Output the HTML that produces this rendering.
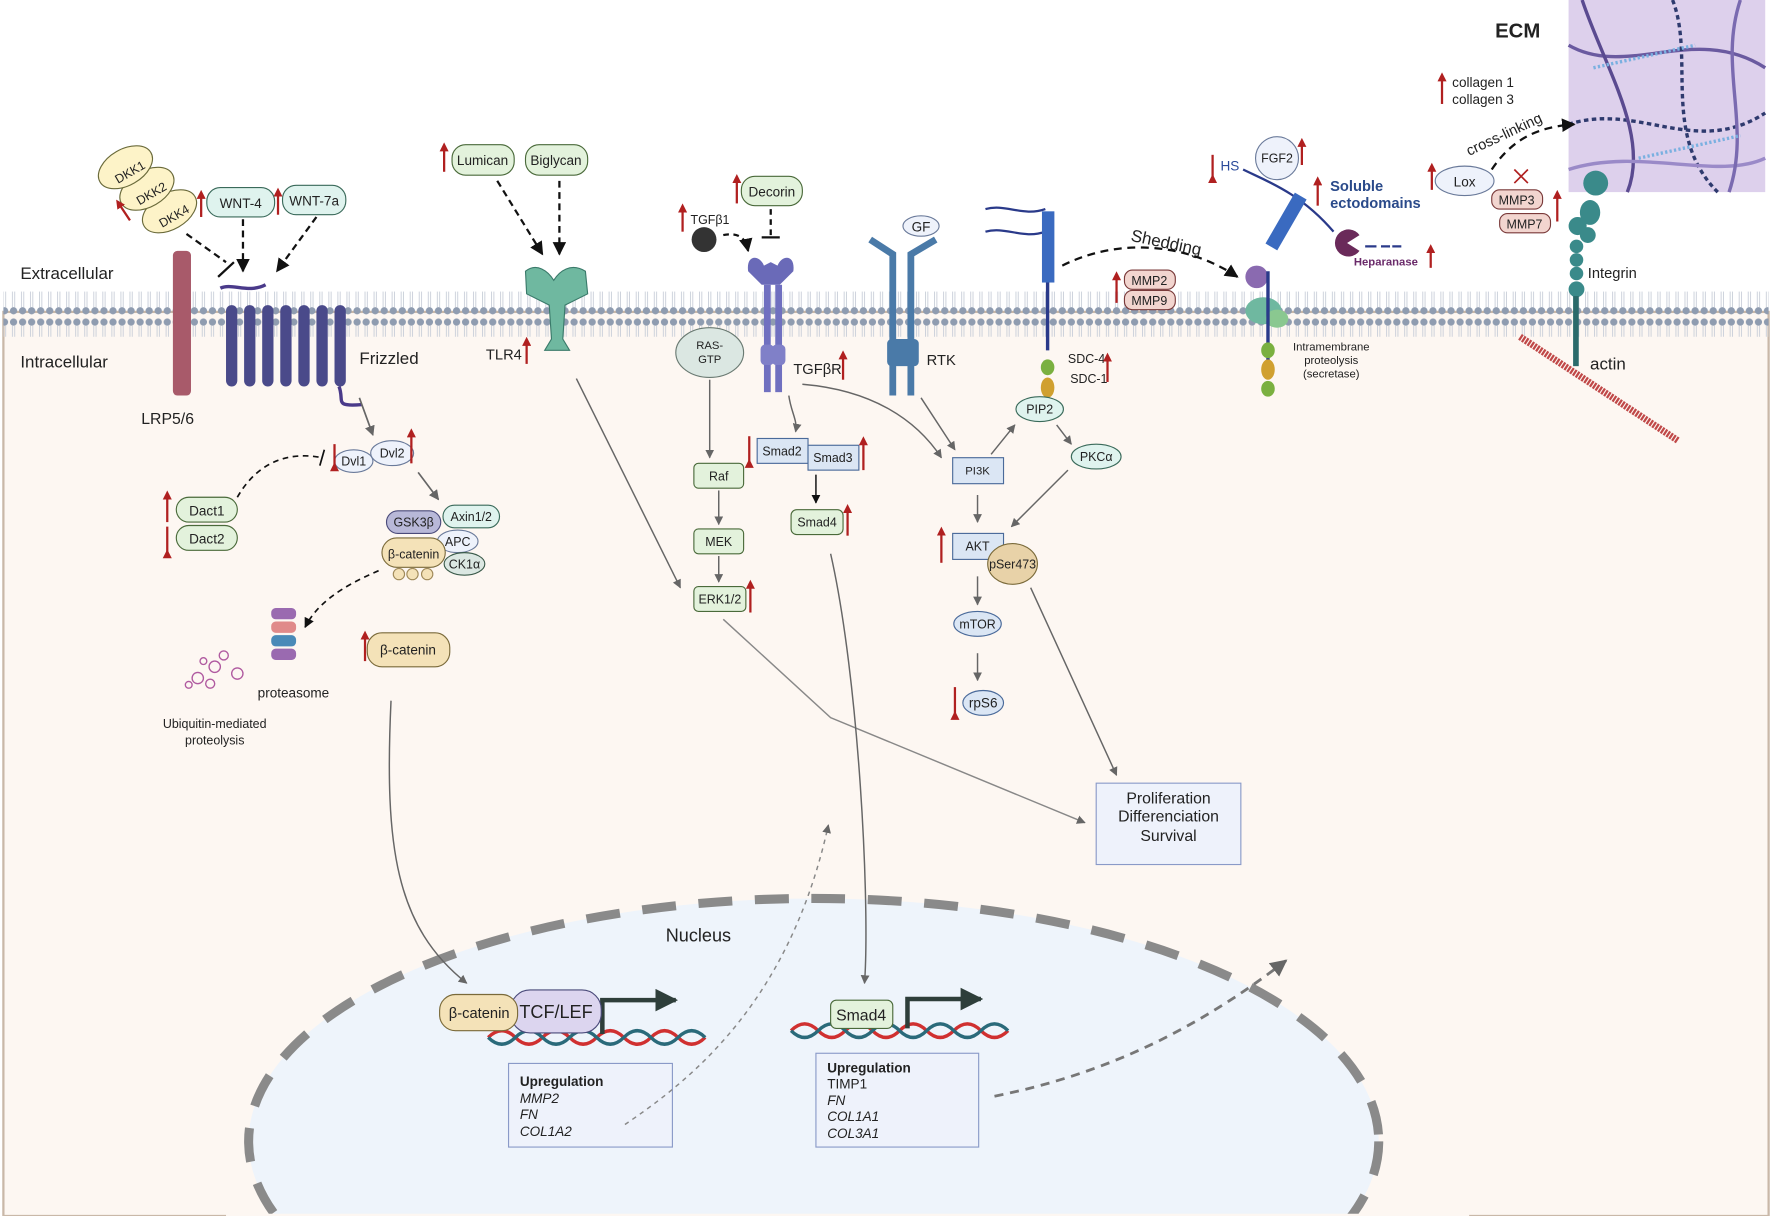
<!DOCTYPE html>
<html><head><meta charset="utf-8"><style>
html,body{margin:0;padding:0;background:#fff;width:1772px;height:1216px;overflow:hidden}
svg{display:block}
text{font-family:"Liberation Sans",sans-serif;fill:#222}
</style></head><body>
<svg width="1772" height="1216" viewBox="0 0 1568 1076" preserveAspectRatio="none" xmlns="http://www.w3.org/2000/svg">
<defs>
<marker id="ag" viewBox="0 0 10 10" refX="9" refY="5" markerWidth="6" markerHeight="6" orient="auto"><path d="M0,0L10,5L0,10z" fill="#666"/></marker>
<marker id="ak" viewBox="0 0 10 10" refX="9" refY="5" markerWidth="6" markerHeight="6" orient="auto"><path d="M0,0L10,5L0,10z" fill="#111"/></marker>
<marker id="ad" viewBox="0 0 10 10" refX="9" refY="5" markerWidth="5" markerHeight="5" orient="auto"><path d="M0,0L10,5L0,10z" fill="#2e3e3a"/></marker>
<pattern id="lip" width="8" height="40" patternUnits="userSpaceOnUse">
<circle cx="4" cy="5" r="3.2" fill="#8f9cb0"/><circle cx="4" cy="35" r="3.2" fill="#8f9cb0"/>
<line x1="3" y1="8" x2="3" y2="32" stroke="#c8ced8" stroke-width="0.8"/><line x1="5" y1="8" x2="5" y2="32" stroke="#c8ced8" stroke-width="0.8"/>
</pattern>
<marker id="red" viewBox="0 0 10 10" refX="5" refY="5" markerWidth="4" markerHeight="4" orient="auto"><path d="M0,0L10,5L0,10z" fill="#b02020"/></marker>
</defs>
<rect x="3" y="276" width="1562" height="800" fill="#fdf7f2" stroke="#c9b8a8" stroke-width="2"/>
<rect x="3" y="258" width="1562" height="40" fill="url(#lip)"/>
<ellipse cx="720" cy="1010" rx="500" ry="215" fill="#eef4fb" stroke="#8a8a8a" stroke-width="8" stroke-dasharray="30 20"/>
<rect x="200" y="1074" width="1100" height="4" fill="#fdf7f2"/>
<rect x="1388" y="0" width="174" height="170" fill="#ddd0ec"/>
<g stroke-width="3" fill="none">
<path d="M1388,40 C1440,70 1500,20 1562,60" stroke="#6a5aa0"/>
<path d="M1388,110 C1450,90 1500,140 1562,100" stroke="#2e3a6e" stroke-dasharray="4 3"/>
<path d="M1400,0 C1420,60 1460,120 1440,170" stroke="#5a4a90"/>
<path d="M1480,0 C1500,50 1470,120 1520,170" stroke="#2e3a6e" stroke-dasharray="4 3"/>
<path d="M1388,150 C1450,130 1520,160 1562,140" stroke="#9a8ac8"/>
<path d="M1540,0 C1520,60 1550,110 1530,170" stroke="#7a6ab0"/>
<path d="M1410,60 L1500,40" stroke="#7ab0e0" stroke-dasharray="2 2"/>
<path d="M1450,140 L1540,120" stroke="#7ab0e0" stroke-dasharray="2 2"/>
</g>
<text x="1323" y="33" font-size="18" font-weight="bold">ECM</text>
<text x="18" y="247" font-size="15">Extracellular</text>
<text x="18" y="325" font-size="15">Intracellular</text>
<rect x="153" y="222" width="16" height="128" rx="4" fill="#a85a6a"/>
<text x="125" y="375" font-size="14">LRP5/6</text>
<g fill="#4a4a8a">
<rect x="200" y="270" width="10" height="72" rx="5"/><rect x="216" y="270" width="10" height="72" rx="5"/><rect x="232" y="270" width="10" height="72" rx="5"/><rect x="248" y="270" width="10" height="72" rx="5"/><rect x="264" y="270" width="10" height="72" rx="5"/><rect x="280" y="270" width="10" height="72" rx="5"/><rect x="296" y="270" width="10" height="72" rx="5"/>
</g>
<path d="M195,255 C205,250 220,260 235,252" stroke="#4a3a8a" stroke-width="3" fill="none"/>
<path d="M300,342 C305,355 295,360 320,358" stroke="#4a3a8a" stroke-width="3" fill="none"/>
<text x="318" y="322" font-size="15">Frizzled</text>
<g fill="#fdf3c8" stroke="#6a6a3a">
<ellipse cx="150" cy="187" rx="26" ry="16" transform="rotate(-30 150 187)"/>
<ellipse cx="130" cy="167" rx="26" ry="16" transform="rotate(-30 130 167)"/>
<ellipse cx="111" cy="148" rx="26" ry="16" transform="rotate(-30 111 148)"/>
</g>
<text x="100" y="158" font-size="11" transform="rotate(-30 111 152)">DKK1</text>
<text x="119" y="177" font-size="11" transform="rotate(-30 130 171)">DKK2</text>
<text x="139" y="197" font-size="11" transform="rotate(-30 150 191)">DKK4</text>
<path d="M115,195 L105,180" stroke="#b02020" stroke-width="2" marker-end="url(#red)"/>
<rect x="183" y="166" width="60" height="26" rx="12" fill="#dff3ee" stroke="#3a6a5a"/><text x="213" y="184" font-size="12" text-anchor="middle">WNT-4</text>
<rect x="250" y="164" width="56" height="26" rx="12" fill="#dff3ee" stroke="#3a6a5a"/><text x="278" y="182" font-size="12" text-anchor="middle">WNT-7a</text>
<path d="M178,192L178,172" stroke="#b02020" stroke-width="2" marker-end="url(#red)"/>
<path d="M246,190L246,170" stroke="#b02020" stroke-width="2" marker-end="url(#red)"/>
<g stroke="#111" stroke-width="2" stroke-dasharray="6 4" fill="none">
<path d="M165,207 L200,232"/><path d="M215,194 L215,240" marker-end="url(#ak)"/><path d="M280,192 L245,240" marker-end="url(#ak)"/>
</g>
<line x1="193" y1="245" x2="207" y2="232" stroke="#111" stroke-width="2"/>
<rect x="400" y="128" width="55" height="27" rx="12" fill="#e3f2dc" stroke="#4a6a3a"/><text x="427" y="146" font-size="12" text-anchor="middle">Lumican</text>
<rect x="465" y="128" width="55" height="27" rx="12" fill="#e3f2dc" stroke="#4a6a3a"/><text x="492" y="146" font-size="12" text-anchor="middle">Biglycan</text>
<path d="M393,152L393,130" stroke="#b02020" stroke-width="2" marker-end="url(#red)"/>
<g stroke="#111" stroke-width="2" stroke-dasharray="6 4" fill="none">
<path d="M440,160 L480,225" marker-end="url(#ak)"/><path d="M495,160 L495,225" marker-end="url(#ak)"/>
</g>
<path d="M465,240 C475,232 485,240 490,248 C495,240 505,232 518,240 L520,260 L500,270 L498,300 L504,310 L482,310 L488,300 L486,270 L466,260Z" fill="#6fb8a0" stroke="#3a7a6a"/>
<text x="430" y="318" font-size="13">TLR4</text><path d="M466,322L466,302" stroke="#b02020" stroke-width="2" marker-end="url(#red)"/>
<rect x="656" y="156" width="54" height="26" rx="12" fill="#e3f2dc" stroke="#4a6a3a"/><text x="683" y="174" font-size="12" text-anchor="middle">Decorin</text>
<path d="M652,180L652,158" stroke="#b02020" stroke-width="2" marker-end="url(#red)"/>
<text x="611" y="198" font-size="11">TGFβ1</text><path d="M604,205L604,184" stroke="#b02020" stroke-width="2" marker-end="url(#red)"/>
<circle cx="623" cy="212" r="11" fill="#333"/>
<path d="M640,208 C655,205 660,212 662,222" stroke="#111" stroke-width="2" stroke-dasharray="5 4" fill="none" marker-end="url(#ak)"/>
<path d="M682,185 L682,208" stroke="#111" stroke-width="2" stroke-dasharray="5 4"/><line x1="674" y1="210" x2="690" y2="210" stroke="#111" stroke-width="2"/>
<path d="M662,240 C660,225 672,225 676,235 L682,232 L688,235 C692,225 704,225 702,240 L690,252 L674,252Z" fill="#6a6ab8"/>
<rect x="676" y="252" width="6" height="95" fill="#7070c0"/><rect x="686" y="252" width="6" height="95" fill="#7070c0"/>
<rect x="673" y="305" width="12" height="18" rx="4" fill="#8080c8"/><rect x="683" y="305" width="12" height="18" rx="4" fill="#8080c8"/>
<text x="702" y="331" font-size="13">TGFβR</text><path d="M746,336L746,314" stroke="#b02020" stroke-width="2" marker-end="url(#red)"/>
<ellipse cx="628" cy="312" rx="30" ry="22" fill="#dbe7e2" stroke="#6a7a72"/>
<text x="628" y="309" font-size="10" text-anchor="middle">RAS-</text><text x="628" y="321" font-size="10" text-anchor="middle">GTP</text>
<ellipse cx="815" cy="200" rx="16" ry="9" fill="#eef2fb" stroke="#6a7a9a"/><text x="815" y="205" font-size="12" text-anchor="middle">GF</text>
<path d="M770,212 L790,225 L790,350" stroke="#4a7aa8" stroke-width="6" fill="none"/>
<path d="M828,212 L806,225 L806,350" stroke="#4a7aa8" stroke-width="6" fill="none"/>
<rect x="785" y="300" width="28" height="24" rx="4" fill="#4a7aa8"/>
<text x="820" y="323" font-size="13">RTK</text>
<path d="M872,185 C890,180 905,192 925,185 M872,205 C890,200 905,212 925,205" stroke="#2a3a8a" stroke-width="2" fill="none"/>
<rect x="922" y="187" width="11" height="63" fill="#3a6ac0"/>
<path d="M927,250 L927,310" stroke="#2a3a8a" stroke-width="3"/>
<ellipse cx="927" cy="325" rx="6" ry="7" fill="#7ab040"/><ellipse cx="927" cy="343" rx="6" ry="9" fill="#d0a030"/><ellipse cx="927" cy="362" rx="6" ry="7" fill="#7ab040"/>
<text x="945" y="321" font-size="11">SDC-4</text><text x="947" y="339" font-size="11">SDC-1</text>
<path d="M980,338L980,316" stroke="#b02020" stroke-width="2" marker-end="url(#red)"/>
<text x="1000" y="213" font-size="15" transform="rotate(12 1000 213)">Shedding</text>
<path d="M940,235 C990,210 1050,215 1095,245" stroke="#111" stroke-width="2" stroke-dasharray="7 5" fill="none" marker-end="url(#ak)"/>
<rect x="995" y="239" width="45" height="17" rx="7" fill="#f2d5cf" stroke="#7a3a3a"/><text x="1017" y="252" font-size="11" text-anchor="middle">MMP2</text>
<rect x="995" y="257" width="45" height="17" rx="7" fill="#f2d5cf" stroke="#7a3a3a"/><text x="1017" y="270" font-size="11" text-anchor="middle">MMP9</text>
<path d="M988,268L988,244" stroke="#b02020" stroke-width="2" marker-end="url(#red)"/>
<circle cx="1112" cy="245" r="10" fill="#8a6ab0"/><ellipse cx="1118" cy="275" rx="16" ry="12" fill="#6fb8a0"/><ellipse cx="1130" cy="282" rx="10" ry="8" fill="#8ac890"/>
<path d="M1122,240 L1122,320" stroke="#2a3a8a" stroke-width="3"/>
<ellipse cx="1122" cy="310" rx="6" ry="7" fill="#7ab040"/><ellipse cx="1122" cy="327" rx="6" ry="9" fill="#d0a030"/><ellipse cx="1122" cy="344" rx="6" ry="7" fill="#7ab040"/>
<text x="1178" y="310" font-size="10" text-anchor="middle">Intramembrane</text><text x="1178" y="322" font-size="10" text-anchor="middle">proteolysis</text><text x="1178" y="334" font-size="10" text-anchor="middle">(secretase)</text>
<text x="1080" y="151" font-size="12" style="fill:#2a4a9a">HS</text><path d="M1073,158L1073,137" stroke="#b02020" stroke-width="2" marker-start="url(#red)"/>
<path d="M1100,150 C1120,160 1150,170 1180,205" stroke="#2a3a8a" stroke-width="2" fill="none"/>
<circle cx="1130" cy="140" r="19" fill="#eef2fb" stroke="#6a7a9a"/><text x="1130" y="144" font-size="11" text-anchor="middle">FGF2</text>
<path d="M1152,146L1152,126" stroke="#b02020" stroke-width="2" marker-end="url(#red)"/>
<rect x="1132" y="170" width="12" height="52" fill="#3a6ac0" transform="rotate(30 1138 196)"/>
<path d="M1166,182L1166,160" stroke="#b02020" stroke-width="2" marker-end="url(#red)"/>
<text x="1177" y="169" font-size="13" font-weight="bold" style="fill:#2a4a8a">Soluble</text><text x="1177" y="184" font-size="13" font-weight="bold" style="fill:#2a4a8a">ectodomains</text>
<path d="M1192,215 L1203,208 A12,12 0 1,0 1203,222Z" fill="#6a2a5a"/>
<path d="M1208,218 h10 M1222,218 h8 M1232,218 h8" stroke="#2a3a8a" stroke-width="2"/>
<text x="1198" y="235" font-size="10" font-weight="bold" style="fill:#6a2a6a">Heparanase</text><path d="M1266,237L1266,220" stroke="#b02020" stroke-width="2" marker-end="url(#red)"/>
<text x="1285" y="77" font-size="12">collagen 1</text><text x="1285" y="92" font-size="12">collagen 3</text>
<path d="M1276,92L1276,68" stroke="#b02020" stroke-width="2" marker-end="url(#red)"/>
<ellipse cx="1296" cy="160" rx="26" ry="13" fill="#eef2fb" stroke="#6a7a9a"/><text x="1296" y="165" font-size="12" text-anchor="middle">Lox</text>
<path d="M1267,168L1267,148" stroke="#b02020" stroke-width="2" marker-end="url(#red)"/>
<text x="1300" y="138" font-size="13" transform="rotate(-25 1300 138)">cross-linking</text>
<path d="M1320,150 C1340,120 1365,112 1393,110" stroke="#111" stroke-width="2" stroke-dasharray="7 5" fill="none" marker-end="url(#ak)"/>
<path d="M1340,150 l12,12 M1352,150 l-12,12" stroke="#b02020" stroke-width="1.5"/>
<rect x="1320" y="168" width="45" height="17" rx="7" fill="#f2d5cf" stroke="#7a3a3a"/><text x="1342" y="181" font-size="11" text-anchor="middle">MMP3</text>
<rect x="1327" y="189" width="45" height="17" rx="7" fill="#f2d5cf" stroke="#7a3a3a"/><text x="1349" y="202" font-size="11" text-anchor="middle">MMP7</text>
<path d="M1378,196L1378,172" stroke="#b02020" stroke-width="2" marker-end="url(#red)"/>
<g fill="#3a8a8a"><circle cx="1412" cy="162" r="11"/><ellipse cx="1407" cy="188" rx="9" ry="11"/><circle cx="1405" cy="208" r="7"/><circle cx="1396" cy="200" r="8"/><circle cx="1395" cy="218" r="6"/><circle cx="1395" cy="230" r="6"/><circle cx="1395" cy="242" r="6"/><circle cx="1395" cy="256" r="7"/></g>
<rect x="1392" y="262" width="5" height="62" fill="#2a6a6a"/>
<text x="1405" y="246" font-size="13">Integrin</text>
<path d="M1345,298 L1485,390" stroke="#c04848" stroke-width="6" stroke-dasharray="2 1"/>
<text x="1407" y="327" font-size="15">actin</text>
<path d="M318,352 L330,385" stroke="#666" stroke-width="1.5" marker-end="url(#ag)"/>
<ellipse cx="313" cy="408" rx="17" ry="10" fill="#eef2fb" stroke="#6a7a9a"/><text x="313" y="412" font-size="11" text-anchor="middle">Dvl1</text>
<ellipse cx="347" cy="401" rx="19" ry="11" fill="#eef2fb" stroke="#6a7a9a"/><text x="347" y="405" font-size="11" text-anchor="middle">Dvl2</text>
<path d="M296,413L296,393" stroke="#b02020" stroke-width="2" marker-start="url(#red)"/><path d="M364,410L364,383" stroke="#b02020" stroke-width="2" marker-end="url(#red)"/>
<path d="M210,440 C230,405 260,400 285,405" stroke="#111" stroke-width="1.5" stroke-dasharray="5 4" fill="none"/><line x1="287" y1="398" x2="283" y2="412" stroke="#111" stroke-width="1.5"/>
<path d="M370,418 L388,442" stroke="#666" stroke-width="1.5" marker-end="url(#ag)"/>
<rect x="156" y="440" width="54" height="22" rx="11" fill="#e3f2dc" stroke="#4a6a3a"/><text x="183" y="456" font-size="12" text-anchor="middle">Dact1</text>
<rect x="156" y="465" width="54" height="22" rx="11" fill="#e3f2dc" stroke="#4a6a3a"/><text x="183" y="481" font-size="12" text-anchor="middle">Dact2</text>
<path d="M148,462L148,438" stroke="#b02020" stroke-width="2" marker-end="url(#red)"/><path d="M148,490L148,466" stroke="#b02020" stroke-width="2" marker-start="url(#red)"/>
<rect x="392" y="447" width="50" height="20" rx="10" fill="#dff3ee" stroke="#3a6a5a"/><text x="417" y="461" font-size="11" text-anchor="middle">Axin1/2</text>
<rect x="342" y="452" width="48" height="20" rx="10" fill="#b8b8d8" stroke="#4a4a7a"/><text x="366" y="466" font-size="11" text-anchor="middle">GSK3β</text>
<ellipse cx="405" cy="479" rx="18" ry="10" fill="#eef2fb" stroke="#6a7a9a"/><text x="405" y="483" font-size="11" text-anchor="middle">APC</text>
<rect x="338" y="476" width="56" height="26" rx="13" fill="#f4e2b8" stroke="#7a6a3a"/><text x="366" y="494" font-size="11" text-anchor="middle">β-catenin</text>
<ellipse cx="411" cy="499" rx="18" ry="10" fill="#dbe7e2" stroke="#3a5a4a"/><text x="411" y="503" font-size="11" text-anchor="middle">CK1α</text>
<g fill="#f4e2b8" stroke="#a08a5a"><circle cx="353" cy="508" r="5"/><circle cx="365" cy="508" r="5"/><circle cx="378" cy="508" r="5"/></g>
<path d="M335,505 C300,520 280,535 270,555" stroke="#111" stroke-width="1.5" stroke-dasharray="5 4" fill="none" marker-end="url(#ak)"/>
<g><rect x="240" y="538" width="22" height="10" rx="4" fill="#9a6ab0"/><rect x="240" y="550" width="22" height="10" rx="4" fill="#e08a8a"/><rect x="240" y="562" width="22" height="10" rx="4" fill="#4a8ab8"/><rect x="240" y="574" width="22" height="10" rx="4" fill="#9a6ab0"/></g>
<text x="228" y="617" font-size="12">proteasome</text>
<g fill="none" stroke="#b05aa0" stroke-width="1.2"><circle cx="175" cy="600" r="5"/><circle cx="190" cy="590" r="5"/><circle cx="198" cy="580" r="4"/><circle cx="210" cy="596" r="5"/><circle cx="186" cy="605" r="4"/><circle cx="167" cy="606" r="3"/><circle cx="180" cy="585" r="3"/></g>
<text x="190" y="644" font-size="11" text-anchor="middle">Ubiquitin-mediated</text><text x="190" y="659" font-size="11" text-anchor="middle">proteolysis</text>
<rect x="325" y="560" width="73" height="30" rx="13" fill="#f4e2b8" stroke="#7a6a3a"/><text x="361" y="579" font-size="12" text-anchor="middle">β-catenin</text>
<path d="M323,585L323,562" stroke="#b02020" stroke-width="2" marker-end="url(#red)"/>
<path d="M346,620 C340,750 350,820 413,870" stroke="#666" stroke-width="1.3" fill="none" marker-end="url(#ag)"/>
<path d="M510,335 L602,520" stroke="#666" stroke-width="1.3" marker-end="url(#ag)"/>
<path d="M628,336 L628,405" stroke="#666" stroke-width="1.3" marker-end="url(#ag)"/>
<rect x="614" y="410" width="44" height="22" rx="4" fill="#e3f2dc" stroke="#4a6a3a"/><text x="636" y="425" font-size="11" text-anchor="middle">Raf</text>
<path d="M636,434 L636,464" stroke="#666" stroke-width="1.3" marker-end="url(#ag)"/>
<rect x="614" y="468" width="44" height="22" rx="4" fill="#e3f2dc" stroke="#4a6a3a"/><text x="636" y="483" font-size="11" text-anchor="middle">MEK</text>
<path d="M636,492 L636,515" stroke="#666" stroke-width="1.3" marker-end="url(#ag)"/>
<rect x="614" y="519" width="46" height="22" rx="4" fill="#e3f2dc" stroke="#4a6a3a"/><text x="637" y="534" font-size="11" text-anchor="middle">ERK1/2</text>
<path d="M664,542L664,517" stroke="#b02020" stroke-width="2" marker-end="url(#red)"/>
<path d="M640,548 L735,635 L960,728" stroke="#888" stroke-width="1.3" fill="none" marker-end="url(#ag)"/>
<path d="M698,350 C700,365 706,372 704,382" stroke="#666" stroke-width="1.3" fill="none" marker-end="url(#ag)"/>
<rect x="670" y="388" width="45" height="22" fill="#dbe6f4" stroke="#4a6a9a"/><text x="692" y="403" font-size="11" text-anchor="middle">Smad2</text>
<rect x="715" y="394" width="45" height="22" fill="#dbe6f4" stroke="#4a6a9a"/><text x="737" y="409" font-size="11" text-anchor="middle">Smad3</text>
<path d="M663,410L663,386" stroke="#b02020" stroke-width="2" marker-start="url(#red)"/><path d="M764,416L764,390" stroke="#b02020" stroke-width="2" marker-end="url(#red)"/>
<path d="M722,420 L722,445" stroke="#111" stroke-width="1.3" marker-end="url(#ak)"/>
<rect x="700" y="451" width="46" height="22" rx="5" fill="#e3f2dc" stroke="#4a6a3a"/><text x="723" y="466" font-size="11" text-anchor="middle">Smad4</text>
<path d="M750,474L750,450" stroke="#b02020" stroke-width="2" marker-end="url(#red)"/>
<path d="M735,490 C760,600 770,800 765,870" stroke="#666" stroke-width="1.3" fill="none" marker-end="url(#ag)"/>
<path d="M710,340 C770,345 810,370 833,405" stroke="#666" stroke-width="1.3" fill="none" marker-end="url(#ag)"/>
<path d="M815,352 L845,398" stroke="#666" stroke-width="1.3" marker-end="url(#ag)"/>
<rect x="843" y="405" width="45" height="23" fill="#dbe6f4" stroke="#4a6a9a"/><text x="865" y="420" font-size="10" text-anchor="middle">PI3K</text>
<path d="M877,402 L898,376" stroke="#666" stroke-width="1.3" marker-end="url(#ag)"/>
<ellipse cx="920" cy="362" rx="21" ry="11" fill="#dff3ee" stroke="#3a6a5a"/><text x="920" y="366" font-size="11" text-anchor="middle">PIP2</text>
<path d="M935,376 L948,393" stroke="#666" stroke-width="1.3" marker-end="url(#ag)"/>
<ellipse cx="970" cy="404" rx="22" ry="11" fill="#dff3ee" stroke="#3a6a5a"/><text x="970" y="408" font-size="11" text-anchor="middle">PKCα</text>
<path d="M945,416 L895,466" stroke="#666" stroke-width="1.3" marker-end="url(#ag)"/>
<path d="M865,438 L865,462" stroke="#666" stroke-width="1.3" marker-end="url(#ag)"/>
<rect x="843" y="472" width="45" height="23" fill="#dbe6f4" stroke="#4a6a9a"/><text x="865" y="487" font-size="11" text-anchor="middle">AKT</text>
<path d="M833,498L833,470" stroke="#b02020" stroke-width="2" marker-end="url(#red)"/>
<ellipse cx="896" cy="499" rx="22" ry="18" fill="#e8d2a8" stroke="#7a6a3a"/><text x="896" y="503" font-size="11" text-anchor="middle">pSer473</text>
<path d="M865,510 L865,535" stroke="#666" stroke-width="1.3" marker-end="url(#ag)"/>
<ellipse cx="865" cy="552" rx="21" ry="11" fill="#dbe6f4" stroke="#4a6a9a"/><text x="865" y="556" font-size="11" text-anchor="middle">mTOR</text>
<path d="M865,578 L865,602" stroke="#666" stroke-width="1.3" marker-end="url(#ag)"/>
<ellipse cx="870" cy="622" rx="18" ry="11" fill="#dbe6f4" stroke="#4a6a9a"/><text x="870" y="626" font-size="12" text-anchor="middle">rpS6</text>
<path d="M845,633L845,608" stroke="#b02020" stroke-width="2" marker-start="url(#red)"/>
<path d="M912,520 L988,686" stroke="#666" stroke-width="1.3" marker-end="url(#ag)"/>
<rect x="970" y="693" width="128" height="72" fill="#eef2fb" stroke="#8a9ac8"/>
<text x="1034" y="711" font-size="14" text-anchor="middle">Proliferation</text><text x="1034" y="727" font-size="14" text-anchor="middle">Differenciation</text><text x="1034" y="744" font-size="14" text-anchor="middle">Survival</text>
<text x="618" y="833" font-size="16" text-anchor="middle">Nucleus</text>
<g stroke-width="3" fill="none">
<path d="M432,918 q12,-12 24,0 t24,0 t24,0 t24,0 t24,0 t24,0 t24,0 t24,0" stroke="#d03030"/>
<path d="M432,918 q12,12 24,0 t24,0 t24,0 t24,0 t24,0 t24,0 t24,0 t24,0" stroke="#2a6a7a"/>
<path d="M700,912 q12,-12 24,0 t24,0 t24,0 t24,0 t24,0 t24,0 t24,0 t24,0" stroke="#d03030"/>
<path d="M700,912 q12,12 24,0 t24,0 t24,0 t24,0 t24,0 t24,0 t24,0 t24,0" stroke="#2a6a7a"/>
</g>
<path d="M533,915 L533,885 L598,885" stroke="#2e3e3a" stroke-width="4" fill="none" marker-end="url(#ad)"/>
<path d="M803,910 L803,884 L868,884" stroke="#2e3e3a" stroke-width="4" fill="none" marker-end="url(#ad)"/>
<rect x="452" y="876" width="80" height="38" rx="17" fill="#dcd5ef" stroke="#4a4a7a"/><text x="492" y="901" font-size="16" text-anchor="middle">TCF/LEF</text>
<rect x="389" y="880" width="69" height="32" rx="14" fill="#f4e2b8" stroke="#7a6a3a"/><text x="424" y="901" font-size="13" text-anchor="middle">β-catenin</text>
<rect x="735" y="885" width="55" height="25" rx="5" fill="#e3f2dc" stroke="#4a6a3a"/><text x="762" y="903" font-size="14" text-anchor="middle">Smad4</text>
<rect x="450" y="941" width="145" height="74" fill="#eef2fb" stroke="#8a9ac8"/>
<text x="460" y="961" font-size="12" font-weight="bold">Upregulation</text>
<text x="460" y="976" font-size="12" font-style="italic">MMP2</text><text x="460" y="990" font-size="12" font-style="italic">FN</text><text x="460" y="1005" font-size="12" font-style="italic">COL1A2</text>
<rect x="722" y="932" width="144" height="83" fill="#eef2fb" stroke="#8a9ac8"/>
<text x="732" y="949" font-size="12" font-weight="bold">Upregulation</text>
<text x="732" y="963" font-size="12">TIMP1</text><text x="732" y="978" font-size="12" font-style="italic">FN</text><text x="732" y="992" font-size="12" font-style="italic">COL1A1</text><text x="732" y="1007" font-size="12" font-style="italic">COL3A1</text>
<path d="M553,995 C620,950 700,880 733,730" stroke="#888" stroke-width="1.3" stroke-dasharray="4 4" fill="none" marker-end="url(#ag)"/>
<path d="M880,970 C980,950 1060,910 1138,850" stroke="#777" stroke-width="2.5" stroke-dasharray="8 6" fill="none" marker-end="url(#ag)"/>
</svg>
</body></html>
